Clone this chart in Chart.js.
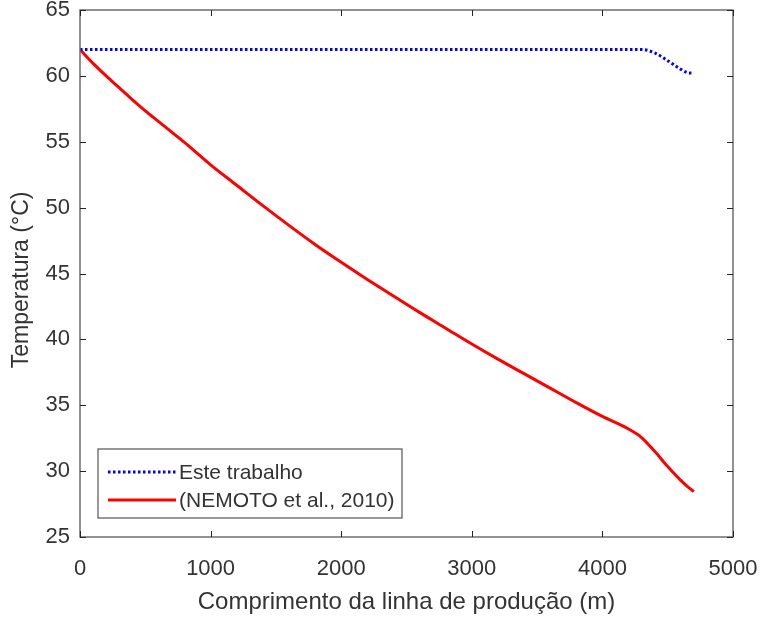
<!DOCTYPE html>
<html>
<head>
<meta charset="utf-8">
<script src="https://cdn.jsdelivr.net/npm/chart.js@4.4.1/dist/chart.umd.min.js"></script>
<style>
  html, body { margin: 0; padding: 0; background: #fff; }
  #wrap { width: 764px; height: 621px; }
</style>
</head>
<body>
<div id="wrap"><canvas id="tempChart" width="764" height="621"></canvas></div>
<script>
// distance along the line (m)
const distance = [0, 100, 200, 300, 400, 500, 600, 700, 800, 900, 1000,
    1200, 1400, 1600, 1800, 2000, 2200, 2400, 2600, 2800, 3000,
    3200, 3400, 3600, 3800, 4000, 4200, 4300, 4400, 4500, 4600, 4650, 4700];
// Este trabalho
const esteTrabalho = [62, 62, 62, 62, 62, 62, 62, 62, 62, 62, 62,
    62, 62, 62, 62, 62, 62, 62, 62, 62, 62,
    62, 62, 62, 62, 62, 62, 62, 61.75, 61.15, 60.5, 60.25, 60.2];
// (NEMOTO et al., 2010)
const nemoto = [62, 60.95, 60.0, 59.1, 58.2, 57.35, 56.55, 55.75, 54.95, 54.1, 53.25,
    51.7, 50.15, 48.65, 47.2, 45.85, 44.55, 43.3, 42.05, 40.85, 39.65,
    38.5, 37.4, 36.3, 35.2, 34.15, 33.2, 32.55, 31.5, 30.35, 29.3, 28.85, 28.45];

const xTicks = [0, 1000, 2000, 3000, 4000, 5000];
const yTicks = [25, 30, 35, 40, 45, 50, 55, 60, 65];

const legendItems = [
    { label: 'Este trabalho', color: '#0000ff', dash: [2.5, 2.5], width: 3 },
    { label: '(NEMOTO et al., 2010)', color: '#ff0000', dash: [], width: 3 }
];

const font = 'Liberation Sans, Arial, sans-serif';
const textColor = '#333333';

// MATLAB style box with inward ticks + legend box
const framePlugin = {
    id: 'frame',
    afterDraw(chart) {
        const ctx = chart.ctx;
        const a = chart.chartArea;
        const xs = chart.scales.x, ys = chart.scales.y;
        ctx.save();
        ctx.strokeStyle = '#6e6e6e';
        ctx.lineWidth = 1.5;
        ctx.strokeRect(a.left, a.top, a.right - a.left, a.bottom - a.top);
        ctx.strokeStyle = '#262626';
        ctx.lineWidth = 1;
        const t = 6;
        xTicks.forEach(v => {
            const px = Math.round(xs.getPixelForValue(v)) + 0.5;
            ctx.beginPath();
            ctx.moveTo(px, a.bottom); ctx.lineTo(px, a.bottom - t);
            ctx.moveTo(px, a.top); ctx.lineTo(px, a.top + t);
            ctx.stroke();
        });
        yTicks.forEach(v => {
            const py = Math.round(ys.getPixelForValue(v)) + 0.5;
            ctx.beginPath();
            ctx.moveTo(a.left, py); ctx.lineTo(a.left + t, py);
            ctx.moveTo(a.right, py); ctx.lineTo(a.right - t, py);
            ctx.stroke();
        });

        // legend
        const bx = 98, by = 449, bw = 304, bh = 69;
        ctx.fillStyle = '#fff';
        ctx.fillRect(bx, by, bw, bh);
        ctx.strokeStyle = '#555';
        ctx.lineWidth = 1.2;
        ctx.strokeRect(bx, by, bw, bh);
        ctx.font = '21px ' + font;
        ctx.textBaseline = 'middle';
        legendItems.forEach((it, i) => {
            const y = by + 23 + i * 28;
            ctx.beginPath();
            ctx.strokeStyle = it.color;
            ctx.lineWidth = it.width;
            ctx.setLineDash(it.dash);
            ctx.moveTo(108, y); ctx.lineTo(176, y);
            ctx.stroke();
            ctx.setLineDash([]);
            ctx.fillStyle = textColor;
            ctx.fillText(it.label, 179, y + 1);
        });
        ctx.restore();
    }
};

const ctx = document.getElementById('tempChart').getContext('2d');
new Chart(ctx, {
    type: 'line',
    data: {
        datasets: [{
            label: 'Este trabalho',
            data: distance.map((d, i) => ({ x: d, y: esteTrabalho[i] })),
            borderColor: '#0000ff',
            borderWidth: 3,
            borderDash: [2.5, 2.5],
            pointRadius: 0,
            cubicInterpolationMode: 'monotone',
            order: 0
        }, {
            label: '(NEMOTO et al., 2010)',
            data: distance.map((d, i) => ({ x: d, y: nemoto[i] })),
            borderColor: '#ff0000',
            borderWidth: 3,
            pointRadius: 0,
            cubicInterpolationMode: 'monotone',
            order: 1
        }]
    },
    options: {
        responsive: false,
        animation: false,
        layout: { padding: { top: 10, right: 31, left: 0, bottom: 0 } },
        plugins: { legend: { display: false }, tooltip: { enabled: false } },
        scales: {
            x: {
                type: 'linear',
                min: 0, max: 5000,
                afterBuildTicks: s => { s.ticks = xTicks.map(v => ({ value: v })); },
                afterFit: s => {
                    s.height = 84;
                    s.paddingLeft = 0; s.paddingRight = 0;
                },
                grid: { display: false, drawTicks: false },
                border: { display: false },
                ticks: { color: textColor, font: { family: font, size: 22 }, padding: 19, maxRotation: 0,
                    callback: v => String(v) },
                title: { display: true, text: 'Comprimento da linha de produção (m)', color: textColor,
                    font: { family: font, size: 24 }, padding: { top: 4, bottom: 4 } }
            },
            y: {
                type: 'linear',
                min: 25, max: 65,
                afterBuildTicks: s => { s.ticks = yTicks.map(v => ({ value: v })); },
                afterFit: s => {
                    s.width = 80;
                    s.paddingTop = 0; s.paddingBottom = 0;
                },
                grid: { display: false, drawTicks: false },
                border: { display: false },
                ticks: { color: textColor, font: { family: font, size: 22 }, padding: 10,
                    callback: v => String(v) },
                // trailing spaces push the rotated text a little lower, like the original
                title: { display: true, text: 'Temperatura (°C)  ', color: textColor,
                    font: { family: font, size: 23 }, padding: { top: 8, bottom: 4 } }
            }
        }
    },
    plugins: [framePlugin]
});
</script>
</body>
</html>
